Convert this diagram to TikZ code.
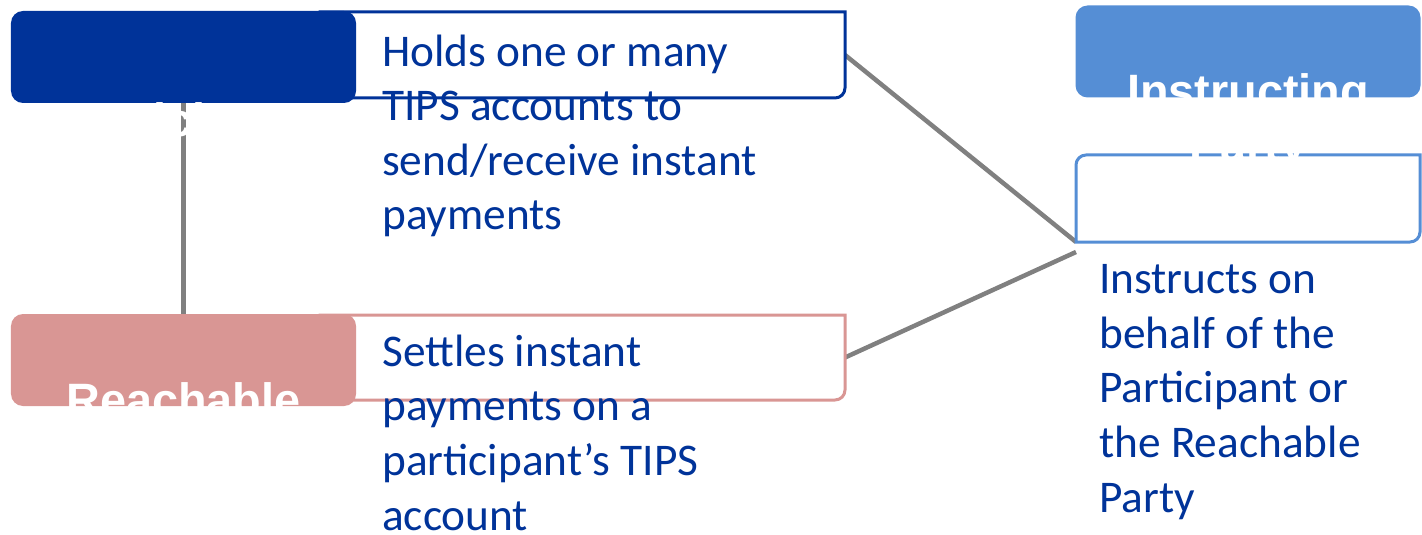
\documentclass[tikz,border=0pt]{standalone}
\usepackage{fontspec}
\setmainfont{Carlito}
\newfontfamily\titlefont{Liberation Sans}
\usetikzlibrary{backgrounds}
\definecolor{darkblue}{RGB}{0,51,153}
\definecolor{pinkbox}{RGB}{217,150,148}
\definecolor{lightblue}{RGB}{85,142,213}
\definecolor{linegray}{RGB}{128,128,128}
\begin{document}
\begin{tikzpicture}[x=1bp,y=-1bp,
  titlebox/.style={rectangle, rounded corners=12bp, minimum width=345bp, minimum height=92bp, inner sep=0pt, outer sep=0pt, draw=none},
  descframe/.style={rectangle, inner sep=0pt, outer sep=0pt},
  titletext/.style={text=white, font=\titlefont\bfseries\fontsize{47}{55}\selectfont, inner sep=0pt, anchor=base},
  desctext/.style={text=darkblue, font=\fontsize{45.5}{54.8}\selectfont, align=left, inner sep=0pt, anchor=base west},
  link/.style={draw=linegray, line width=4.5bp},
  outline/.style={line width=3bp, fill=white}]
\useasboundingbox (0,0) rectangle (1422,535);
% description frames
\node[descframe, minimum width=525bp, minimum height=86bp] (Pd) at (582.5,55) {};
\node[descframe, minimum width=525bp, minimum height=85bp] (Rd) at (582.5,357.5) {};
\node[descframe, minimum width=344bp, minimum height=87bp] (Id) at (1248,198.5) {};
\coordinate (Ilow) at ([yshift=-10bp]Id.south west);
\path[outline, draw=darkblue] (Pd.north) [sharp corners] -- (Pd.north east) [rounded corners=10bp] -- (Pd.south east) [sharp corners] -- (Pd.south west) -- (Pd.north west) -- cycle;
\path[outline, draw=pinkbox] (Rd.north) [sharp corners] -- (Rd.north east) [rounded corners=10bp] -- (Rd.south east) [sharp corners] -- (Rd.south west) -- (Rd.north west) -- cycle;
\path[outline, draw=lightblue] (Id.north) [sharp corners] -- (Id.north east) [rounded corners=10bp] -- (Id.south east) [sharp corners] -- (Id.south west) [rounded corners=10bp] -- (Id.north west) [sharp corners] -- cycle;
% title boxes
\node[titlebox, fill=darkblue] (P) at (183.5,57) {};
\node[titlebox, fill=pinkbox] (R) at (183.5,360) {};
\node[titlebox, fill=lightblue] (I) at (1248,51.5) {};
% connectors
\begin{pgfonlayer}{background}
\draw[link] (P.south) -- (R.north);
\draw[link] (Pd.east) -- (Id.south west);
\draw[link] (Rd.east) -- (Ilow);
\end{pgfonlayer}
% title texts (anchor = baseline of last line)
\node[titletext] (Pt) at (183.5,137) {Participant};
\node[titletext, align=center] (Rt) at (183.5,471) {Reachable\\Party};
\node[titletext, align=center] (It) at (1248,162) {Instructing\\Party};
% description texts (anchor = baseline of last line)
\node[desctext] (Pdt) at (382,230) {Holds one or many\\TIPS accounts to\\send/receive instant\\payments};
\node[desctext] (Rdt) at (382,530) {Settles instant\\payments on a\\participant’s TIPS\\account};
\node[desctext] (Idt) at (1099,512) {Instructs on\\behalf of the\\Participant or\\the Reachable\\Party};
\end{tikzpicture}
\end{document}
